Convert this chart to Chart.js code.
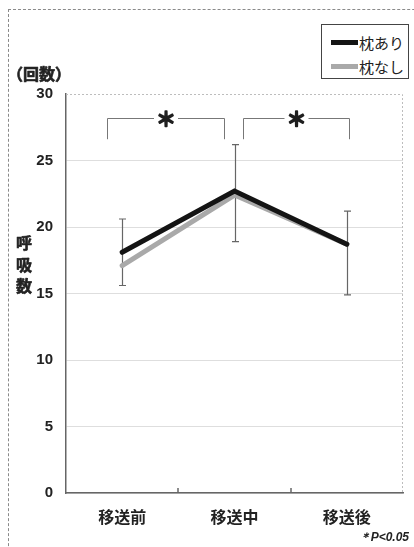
<!DOCTYPE html>
<html>
<head>
<meta charset="utf-8">
<script src="https://cdn.jsdelivr.net/npm/chart.js@4"></script>
<style>
  html, body { margin: 0; padding: 0; background: #fff; overflow: hidden; }
  #wrap { position: relative; width: 414px; height: 547px; overflow: hidden; }
  #frame { position: absolute; left: 8px; top: 9px; width: 500px; height: 600px; border: 1px dashed #8a8a8a; }
  #chart { position: absolute; left: 0; top: 0; }
  #legend { position: absolute; left: 321px; top: 24px; width: 88px; height: 55px; box-sizing: border-box;
            border: 1.5px solid #444; background: #fff; padding: 5px 0 0 9px;
            font-family: "Noto Sans CJK JP", sans-serif; font-size: 15px; color: #222; }
  #legend .item { display: flex; align-items: center; height: 24px; }
  #legend .swatch { width: 27px; height: 5px; margin-right: 1px; }
</style>
</head>
<body>
<div id="wrap">
  <div id="frame"></div>
  <canvas id="chart" width="414" height="547"></canvas>
  <div id="legend"></div>
</div>
<script>
// Respiratory rate before / during / after transfer, with and without a pillow
const categories = ['移送前', '移送中', '移送後'];
const withPillow = [18.1, 22.7, 18.7];      // 枕あり
const withoutPillow = [17.1, 22.4, 18.7];   // 枕なし
const errUpper = [20.6, 26.2, 21.2];
const errLower = [15.6, 18.9, 14.9];
const yTicks = [0, 5, 10, 15, 20, 25, 30];
const seriesNames = ['枕あり', '枕なし'];
const sigPairs = [[0, 1], [1, 2]];          // pairs marked ＊ (P<0.05)

const JP = '"Noto Sans CJK JP", sans-serif';
const NUM = '"Liberation Sans", Arial, sans-serif';

// heavier text: fill plus a thin stroke in the same colour
function heavyText(ctx, s, x, y, w) {
  ctx.lineWidth = w;
  ctx.strokeStyle = ctx.fillStyle;
  ctx.lineJoin = 'round';
  ctx.strokeText(s, x, y);
  ctx.fillText(s, x, y);
}

const annotations = {
  id: 'annotations',
  beforeDatasetsDraw(chart) {
    const { ctx, chartArea: a, scales: { x, y } } = chart;
    ctx.save();
    // dotted frame on the top and right of the plot
    ctx.strokeStyle = '#bdbdbd';
    ctx.lineWidth = 1;
    ctx.setLineDash([2, 2]);
    ctx.beginPath();
    ctx.moveTo(a.left, a.top + 0.5);
    ctx.lineTo(a.right - 0.5, a.top + 0.5);
    ctx.lineTo(a.right - 0.5, a.bottom);
    ctx.stroke();
    ctx.setLineDash([]);

    // error bars
    ctx.strokeStyle = '#666';
    ctx.lineWidth = 1.2;
    categories.forEach((c, i) => {
      const px = Math.round(x.getPixelForValue(i)) + 0.5;
      const t = y.getPixelForValue(errUpper[i]);
      const b = y.getPixelForValue(errLower[i]);
      ctx.beginPath();
      ctx.moveTo(px, t); ctx.lineTo(px, b);
      ctx.moveTo(px - 3.5, t); ctx.lineTo(px + 3.5, t);
      ctx.moveTo(px - 3.5, b); ctx.lineTo(px + 3.5, b);
      ctx.stroke();
    });

    // inner tick marks between categories on the x axis
    ctx.strokeStyle = '#666';
    ctx.lineWidth = 1.5;
    for (let i = 0; i < categories.length - 1; i++) {
      const px = Math.round((x.getPixelForValue(i) + x.getPixelForValue(i + 1)) / 2);
      ctx.beginPath();
      ctx.moveTo(px, a.bottom); ctx.lineTo(px, a.bottom - 5);
      ctx.stroke();
    }
    ctx.restore();
  },
  afterDraw(chart) {
    const { ctx, scales: { x, y } } = chart;
    ctx.save();
    // significance brackets
    const insets = [[-15, -11], [8, 2]];
    const top = Math.round(y.getPixelForValue(28.2)) + 0.5;
    const foot = y.getPixelForValue(26.6);
    ctx.textAlign = 'center';
    ctx.textBaseline = 'middle';
    sigPairs.forEach(([p, q], k) => {
      const l = Math.round(x.getPixelForValue(p) + insets[k][0]) + 0.5;
      const r = Math.round(x.getPixelForValue(q) + insets[k][1]) + 0.5;
      const m = (l + r) / 2;
      ctx.strokeStyle = '#777';
      ctx.lineWidth = 1;
      ctx.beginPath();
      ctx.moveTo(l, foot); ctx.lineTo(l, top); ctx.lineTo(m - 12, top);
      ctx.moveTo(m + 12, top); ctx.lineTo(r, top); ctx.lineTo(r, foot);
      ctx.stroke();
      ctx.fillStyle = '#1e1e1e';
      ctx.font = 'bold 20px ' + JP;
      heavyText(ctx, '＊', m, top + 1, 1.6);
    });

    // axis titles
    ctx.fillStyle = '#222';
    ctx.textAlign = 'left';
    ctx.font = 'bold 16px ' + JP;
    heavyText(ctx, '（回数）', 7, 74, 0.6);
    ctx.textAlign = 'center';
    ['呼', '吸', '数'].forEach((ch, i) => heavyText(ctx, ch, 24, 243 + i * 21.5, 0.6));

    // footnote
    ctx.fillStyle = '#222';
    ctx.textAlign = 'right';
    ctx.font = 'italic bold 12px ' + NUM;
    ctx.fillText('＊P<0.05', 409, 538);
    ctx.restore();
  }
};

const chart = new Chart(document.getElementById('chart'), {
  type: 'line',
  data: {
    labels: categories,
    datasets: [
      { label: seriesNames[0], data: withPillow, borderColor: '#141414', borderWidth: 5,
        pointRadius: 0, tension: 0, borderCapStyle: 'round', borderJoinStyle: 'miter' },
      { label: seriesNames[1], data: withoutPillow, borderColor: '#a9a9a9', borderWidth: 5,
        pointRadius: 0, tension: 0, borderCapStyle: 'round', borderJoinStyle: 'miter' }
    ]
  },
  options: {
    responsive: false,
    animation: false,
    devicePixelRatio: 1,
    layout: { padding: { left: 0, top: 94, right: 11, bottom: 0 } },
    plugins: { legend: { display: false }, tooltip: { enabled: false } },
    scales: {
      x: {
        type: 'category',
        offset: true,
        grid: { display: false, drawTicks: false },
        border: { color: '#666', width: 1.5 },
        ticks: { color: '#222', padding: 14, font: { family: JP, size: 16, weight: 'bold' } },
        afterFit(s) { s.height = 54; }
      },
      y: {
        min: 0, max: 30,
        afterBuildTicks(s) { s.ticks = yTicks.map(v => ({ value: v })); },
        grid: { color: ctx => ctx.tick && ctx.tick.value === 30 ? 'rgba(0,0,0,0)' : '#dedede',
                lineWidth: 1, drawTicks: false },
        border: { color: '#666', width: 1.5 },
        ticks: { color: '#222', padding: 13, font: { family: NUM, size: 15, weight: 'bold' } },
        afterFit(s) { s.width = 66; }
      }
    }
  },
  plugins: [annotations]
});

// legend built from the chart's datasets
const legend = document.getElementById('legend');
chart.data.datasets.forEach(ds => {
  const item = document.createElement('div');
  item.className = 'item';
  const sw = document.createElement('span');
  sw.className = 'swatch';
  sw.style.background = ds.borderColor;
  const tx = document.createElement('span');
  tx.textContent = ds.label;
  item.appendChild(sw); item.appendChild(tx);
  legend.appendChild(item);
});
</script>
</body>
</html>
